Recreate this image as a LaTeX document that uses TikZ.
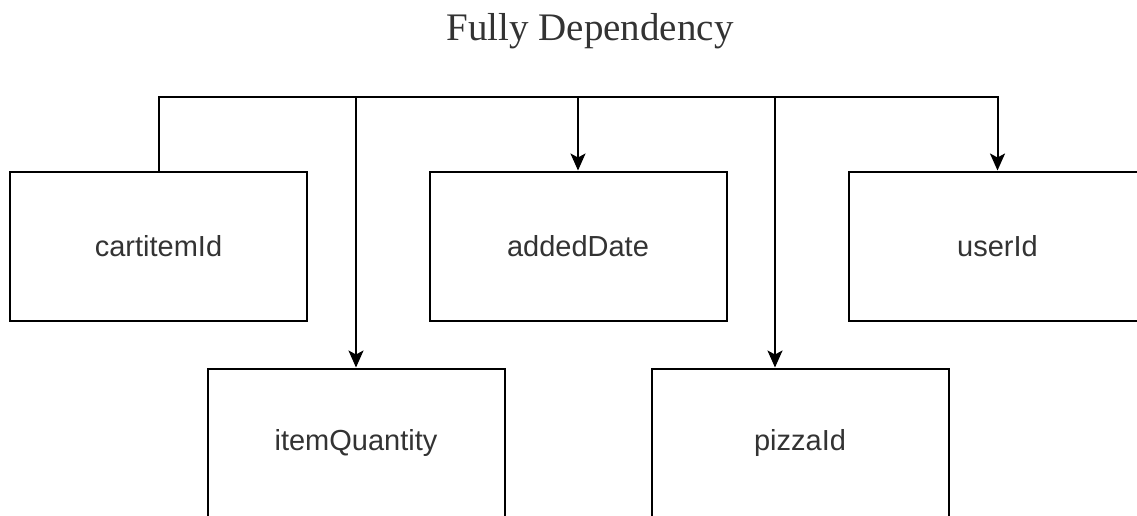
\documentclass[tikz,border=0pt]{standalone}
\usepackage{fontspec}
\setmainfont{Liberation Serif}
\newfontfamily\labelfont{Liberation Sans}
\usetikzlibrary{arrows.meta}
\begin{document}
\begin{tikzpicture}[x=1pt,y=-1pt,
  attrbox/.style={draw=black, line width=2pt, minimum width=297pt, minimum height=149pt,
    inner sep=0pt, font=\labelfont\fontsize{29}{33}\selectfont, text=black!80},
  link/.style={draw=black, line width=2pt, line join=miter},
  arr/.style={link, -{Stealth[length=17pt,width=15pt,inset=4pt]}}]
\useasboundingbox (0,0) rectangle (1137,515);
\clip (0,0) rectangle (1137,515);
\node[anchor=base, font=\fontsize{39}{44}\selectfont, text=black!80] (title) at (590,40) {Fully Dependency};
\node[attrbox] (cart) at (158.5,246) {cartitemId};
\node[attrbox] (added) at (578,246) {addedDate};
\node[attrbox] (user) at (997.5,246) {userId};
\node[attrbox] (qty) at (356,443) {itemQuantity};
\node[attrbox] (pizza) at (800,443) {pizzaId};
\coordinate (tl) at (158.5,97);
\coordinate (tr) at (997.5,97);
\coordinate (jq) at (356,97);
\coordinate (ja) at (578,97);
\coordinate (jp) at (775,97);
\draw[arr] (cart.north) -- (tl) -- (tr) -- (user.north);
\draw[arr] (jq) -- (qty.north);
\draw[arr] (ja) -- (added.north);
\draw[arr] (jp) -- (jp |- pizza.north);
\end{tikzpicture}
\end{document}
